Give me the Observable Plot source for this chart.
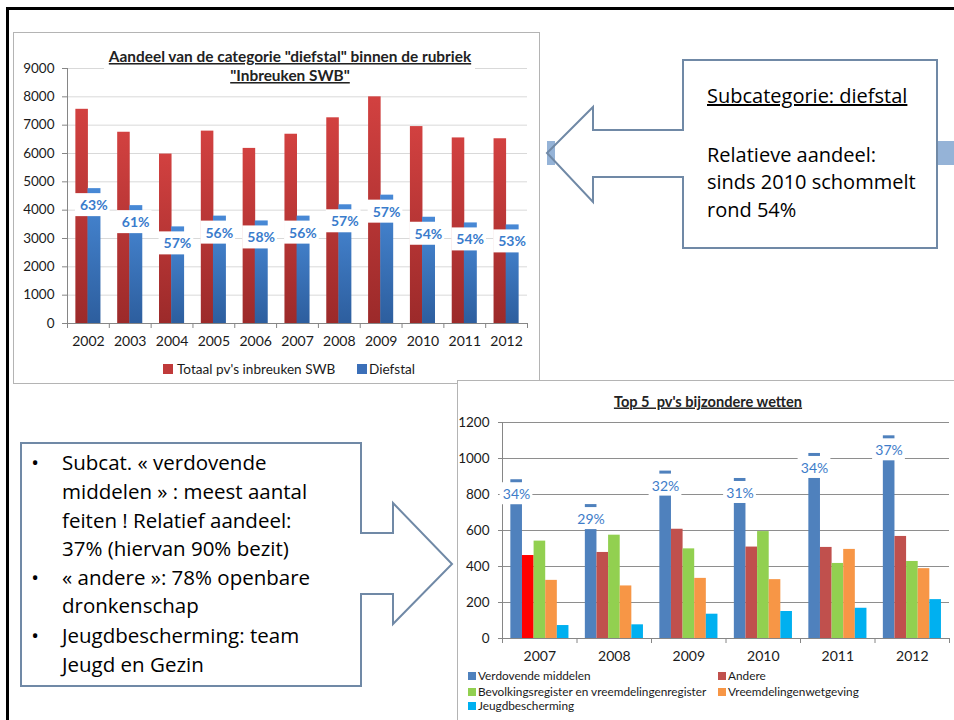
<!DOCTYPE html>
<html><head><meta charset="utf-8">
<script src="https://cdn.jsdelivr.net/npm/d3@7"></script>
<script src="https://cdn.jsdelivr.net/npm/@observablehq/plot@0.6"></script>
<style>
body{margin:0;background:#fff;}
#slide{position:relative;width:954px;height:720px;overflow:hidden;background:#fff;font-family:Lato,sans-serif;}
.abs{position:absolute;box-sizing:border-box;}
</style></head><body>
<div id="slide"></div>
<script>
// ---------- Chart 1 data ----------
const years1 = [2002, 2003, 2004, 2005, 2006, 2007, 2008, 2009, 2010, 2011, 2012];
const totaal = [7560, 6750, 5980, 6790, 6180, 6680, 7260, 8000, 6950, 6550, 6520];
const diefstal = [4760, 4160, 3410, 3790, 3620, 3790, 4190, 4530, 3750, 3550, 3480];
const aandeel1 = ["63%", "61%", "57%", "56%", "58%", "56%", "57%", "57%", "54%", "54%", "53%"];
const yTicks1 = [0, 1000, 2000, 3000, 4000, 5000, 6000, 7000, 8000, 9000];
const title1 = ['Aandeel van de categorie "diefstal" binnen de rubriek', '"Inbreuken SWB"'];
const legend1 = ["Totaal pv's inbreuken SWB", "Diefstal"];

// ---------- Chart 2 data ----------
const years2 = [2007, 2008, 2009, 2010, 2011, 2012];
const series2 = ["Verdovende middelen", "Andere", "Bevolkingsregister en vreemdelingenregister", "Vreemdelingenwetgeving", "Jeugdbescherming"];
const verdovende = [882, 744, 930, 889, 1028, 1126];
const andere = [461, 478, 607, 508, 506, 567];
const bevolking = [541, 574, 498, 594, 417, 428];
const vreemdelingen = [323, 292, 334, 327, 495, 388];
const jeugd = [72, 76, 135, 150, 168, 216];
const aandeel2 = ["34%", "29%", "32%", "31%", "34%", "37%"];
const yTicks2 = [0, 200, 400, 600, 800, 1000, 1200];
const title2 = "Top 5  pv's bijzondere wetten";
const colors2 = ["#4f81bd", "#c0504d", "#92d050", "#f79646", "#00b0f0"];
const highlight = {year: 2007, series: "Andere", color: "#ff0000"};

// ---------- Callout texts ----------
const callout1 = ["Subcategorie: diefstal", "Relatieve aandeel:", "sinds 2010 schommelt", "rond 54%"];
const callout2 = [
  {bullet: true, text: "Subcat. « verdovende"},
  {bullet: false, text: "middelen » : meest aantal"},
  {bullet: false, text: "feiten ! Relatief aandeel:"},
  {bullet: false, text: "37% (hiervan 90% bezit)"},
  {bullet: true, text: "« andere »: 78% openbare"},
  {bullet: false, text: "dronkenschap"},
  {bullet: true, text: "Jeugdbescherming: team"},
  {bullet: false, text: "Jeugd en Gezin"}
];

const slide = document.getElementById("slide");
function add(html) { slide.insertAdjacentHTML("beforeend", html); }
const NS = "http://www.w3.org/2000/svg";
function addGradient(svg, id, top, bottom) {
  let defs = svg.querySelector("defs");
  if (!defs) { defs = document.createElementNS(NS, "defs"); svg.insertBefore(defs, svg.firstChild); }
  const g = document.createElementNS(NS, "linearGradient");
  g.setAttribute("id", id); g.setAttribute("x1", "0"); g.setAttribute("y1", "0"); g.setAttribute("x2", "0"); g.setAttribute("y2", "1");
  [[0, top], [1, bottom]].forEach(([o, c]) => {
    const s = document.createElementNS(NS, "stop");
    s.setAttribute("offset", o); s.setAttribute("stop-color", c); g.appendChild(s);
  });
  defs.appendChild(g);
}

// slide border
add(`<div class="abs" style="left:6px;top:7px;width:960px;height:730px;border-top:3px solid #000;border-left:3px solid #000;"></div>`);
// chart 1 frame
add(`<div class="abs" style="left:13px;top:32px;width:527px;height:352px;border:1.5px solid #b4b4b4;background:#fff"></div>`);

// ---------- Chart 1 ----------
const rows1 = years1.map((year, i) => ({year, totaal: totaal[i], diefstal: diefstal[i], pct: aandeel1[i]}));
const bounds1 = d3.range(years1.length + 1).map(i => years1[0] - 0.5 + i);
const chart1 = Plot.plot({
  width: 525, height: 350,
  marginLeft: 53, marginRight: 12, marginTop: 35, marginBottom: 60,
  style: {background: "transparent", fontFamily: "Lato, sans-serif", color: "#1a1a1a", overflow: "visible"},
  x: {type: "linear", domain: [bounds1[0], bounds1[bounds1.length - 1]]},
  y: {domain: [0, 9000]},
  marks: [
    Plot.gridY({ticks: yTicks1, stroke: "#d9d9d9", strokeOpacity: 1}),
    Plot.axisY({ticks: yTicks1, tickSize: 5, tickPadding: 8, tickFormat: d => String(d), label: null, fontSize: 13.5, stroke: "#868686", fill: "#1a1a1a"}),
    Plot.ruleX([bounds1[0]], {stroke: "#868686"}),
    Plot.rect(rows1, {x1: d => d.year - 0.3, x2: d => d.year, y1: 0, y2: "totaal", fill: "url(#c1red)"}),
    Plot.rect(rows1, {x1: d => d.year - 0.01, x2: d => d.year + 0.3, y1: 0, y2: "diefstal", fill: "url(#c1blue)"}),
    Plot.ruleY([0], {stroke: "#868686"}),
    Plot.axisX({ticks: bounds1, tickSize: 5, tickFormat: () => "", label: null, stroke: "#868686"}),
    Plot.axisX({ticks: years1, tickSize: 0, tickPadding: 13, tickFormat: d => String(d), label: null, fontSize: 14, fill: "#1a1a1a"}),
    Plot.rect(rows1, {x1: d => d.year - 0.31, x2: d => d.year + 0.52, y1: "diefstal", y2: "diefstal", insetTop: 5, insetBottom: -28, fill: "white"}),
    Plot.text(rows1, {x: d => d.year + 0.13, y: "diefstal", dy: 17, text: "pct", fill: "#3a7ccc", fontWeight: "bold", fontSize: 14})
  ]
});
addGradient(chart1, "c1red", "#d24140", "#9c2a2a");
addGradient(chart1, "c1blue", "#4889d6", "#2d5e9e");
const w1 = document.createElement("div");
w1.className = "abs"; w1.style.left = "14px"; w1.style.top = "33px";
w1.appendChild(chart1); slide.appendChild(w1);

// chart 2 frame
add(`<div class="abs" style="left:457px;top:380px;width:500px;height:345px;border-left:1.5px solid #b4b4b4;border-top:1.5px solid #b4b4b4;background:#fff"></div>`);

// ---------- Chart 2 ----------
const values2 = [verdovende, andere, bevolking, vreemdelingen, jeugd];
const rows2 = [];
years2.forEach((year, i) => series2.forEach((series, k) => rows2.push({year, k, series, value: values2[k][i]})));
const labels2 = years2.map((year, i) => ({year, value: verdovende[i], pct: aandeel2[i]}));
const bounds2 = d3.range(years2.length + 1).map(i => years2[0] - 0.5 + i);
const bw = 0.156;
const chart2 = Plot.plot({
  width: 496, height: 339,
  marginLeft: 44, marginRight: 5, marginTop: 41, marginBottom: 82,
  style: {background: "transparent", fontFamily: "Lato, sans-serif", color: "#1a1a1a", overflow: "visible"},
  x: {type: "linear", domain: [bounds2[0], bounds2[bounds2.length - 1]]},
  y: {domain: [0, 1200]},
  color: {type: "identity"},
  marks: [
    Plot.gridY({ticks: yTicks2.slice(1), stroke: "#8e8e8e", strokeOpacity: 1}),
    Plot.axisY({ticks: yTicks2, tickSize: 4, tickPadding: 9, tickFormat: d => String(d), label: null, fontSize: 13.5, stroke: "#868686", fill: "#1a1a1a"}),
    Plot.ruleX([bounds2[0]], {stroke: "#868686"}),
    Plot.rect(rows2, {
      x1: d => d.year - 0.388 + d.k * bw, x2: d => d.year - 0.388 + (d.k + 1) * bw,
      y1: 0, y2: "value",
      fill: d => (d.year === highlight.year && d.series === highlight.series) ? highlight.color : colors2[d.k]
    }),
    Plot.ruleY([0], {stroke: "#868686"}),
    Plot.axisX({ticks: bounds2, tickSize: 5, tickFormat: () => "", label: null, stroke: "#868686"}),
    Plot.axisX({ticks: years2, tickSize: 0, tickPadding: 13, tickFormat: d => String(d), label: null, fontSize: 14, fill: "#1a1a1a"}),
    Plot.rect(labels2, {x1: d => d.year - 0.312 - 0.22, x2: d => d.year - 0.312 + 0.22, y1: "value", y2: "value", insetTop: 3, insetBottom: -25, fill: "white"}),
    Plot.text(labels2, {x: d => d.year - 0.312, y: "value", dy: 15, text: "pct", fill: "#3d7cc9", fontSize: 14})
  ]
});
const w2 = document.createElement("div");
w2.className = "abs"; w2.style.left = "458px"; w2.style.top = "381px";
w2.appendChild(chart2); slide.appendChild(w2);

// ---------- Overlay: titles, legends, callouts ----------
const cf = `font-family:'Open Sans',sans-serif;font-size:20px;fill:#000`;
const cf2 = `font-family:'Open Sans',sans-serif;font-size:20.5px;fill:#000`;
let ov = `<svg class="abs" style="left:0;top:0;overflow:visible" width="954" height="720" xmlns="${NS}">`;
// chart 1 title
ov += `<rect x="104" y="47" width="371" height="38" fill="#fff"/>`;
ov += `<text x="290" y="62" text-anchor="middle" style="font-family:Lato,sans-serif;font-weight:bold;font-size:15.4px;fill:#222;text-decoration:underline">${title1[0].replace(/"/g, "&quot;")}</text>`;
ov += `<text x="290" y="81" text-anchor="middle" style="font-family:Lato,sans-serif;font-weight:bold;font-size:15.4px;fill:#222;text-decoration:underline">${title1[1].replace(/"/g, "&quot;")}</text>`;
// chart 1 legend
ov += `<rect x="163" y="364" width="10" height="10" fill="#c03a3a"/>`;
ov += `<text x="177" y="374" style="font-family:Lato,sans-serif;font-size:13.6px;fill:#1a1a1a">${legend1[0]}</text>`;
ov += `<rect x="357" y="364" width="10" height="10" fill="#3b6fb8"/>`;
ov += `<text x="369" y="374" style="font-family:Lato,sans-serif;font-size:13.6px;fill:#1a1a1a">${legend1[1]}</text>`;
// chart 2 title
ov += `<text x="708" y="406.5" text-anchor="middle" style="font-family:Lato,sans-serif;font-weight:bold;font-size:14.6px;fill:#222;text-decoration:underline;white-space:pre">${title2}</text>`;
// chart 2 legend
const leg2pos = [[468, 676], [718, 676], [468, 692], [718, 692], [468, 706]];
series2.forEach((s, k) => {
  const [lx, ly] = leg2pos[k];
  ov += `<rect x="${lx}" y="${ly - 4}" width="8" height="8" fill="${colors2[k]}"/>`;
  ov += `<text x="${lx + 10}" y="${ly + 4.3}" style="font-family:Lato,sans-serif;font-size:11.8px;fill:#1a1a1a">${s}</text>`;
});
// callout 1 (arrow pointing left)
const poly1 = "683,60 937,60 937,248 683,248 683,177 593,177 593,202 547,153 593,107 593,130 683,130";
ov += `<polygon points="${poly1}" fill="#fff"/>`;
ov += `<rect x="547" y="141" width="8" height="24" fill="#95b3d7"/>`;
ov += `<rect x="937" y="141" width="17" height="24" fill="#95b3d7"/>`;
ov += `<polygon points="${poly1}" fill="none" stroke="#7089a6" stroke-width="2"/>`;
const base1 = [103, 161.5, 189, 216.5];
callout1.forEach((t, i) => {
  ov += `<text x="707" y="${base1[i]}" style="${cf}${i === 0 ? ';text-decoration:underline' : ''}">${t}</text>`;
});
// callout 2 (arrow pointing right)
const poly2 = "21,443 361,443 361,533 393,533 393,503 452,564 393,624 393,594 361,594 361,686 21,686";
ov += `<polygon points="${poly2}" fill="#fff" stroke="#7089a6" stroke-width="2"/>`;
const base2 = [470, 499, 527.7, 556, 585, 613.3, 642.7, 671.7];
callout2.forEach((l, i) => {
  if (l.bullet) ov += `<text x="35" y="${base2[i]}" text-anchor="middle" style="${cf2}">•</text>`;
  ov += `<text x="62" y="${base2[i]}" style="${cf2}">${l.text}</text>`;
});
ov += `</svg>`;
add(ov);
</script>
</body></html>
